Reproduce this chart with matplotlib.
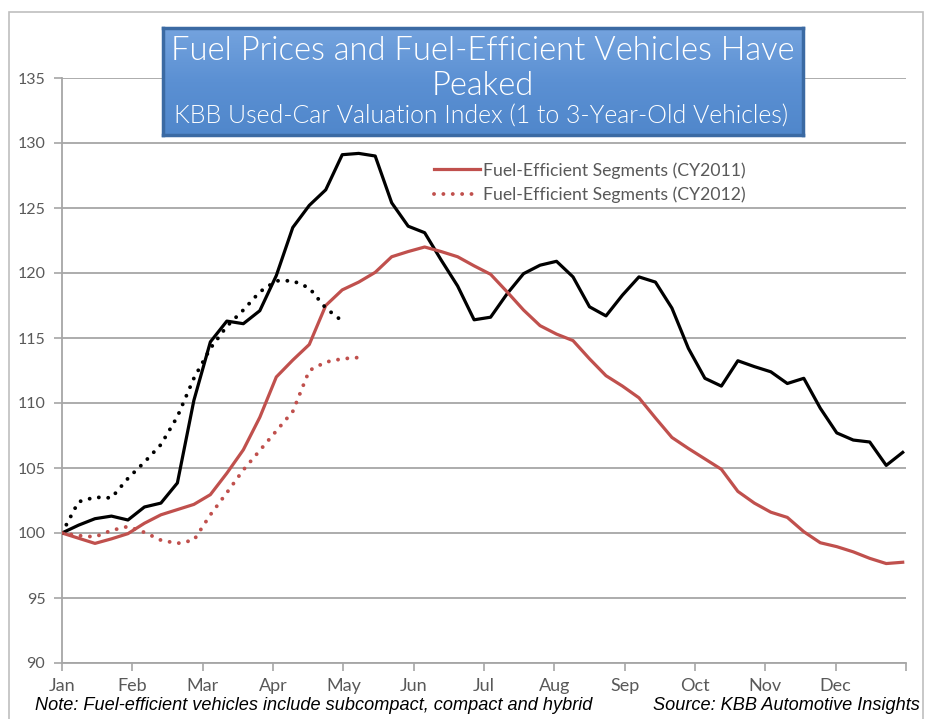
import os
import numpy as np
import matplotlib
matplotlib.use("Agg")
import matplotlib.pyplot as plt
from matplotlib.patches import Rectangle
from matplotlib.colors import LinearSegmentedColormap
from matplotlib import font_manager
from matplotlib.font_manager import FontProperties

# ---- data -------------------------------------------------------------
months = ["Jan", "Feb", "Mar", "Apr", "May", "Jun",
          "Jul", "Aug", "Sep", "Oct", "Nov", "Dec"]

overall_2011 = [100.0, 100.6, 101.1, 101.3, 101.0, 102.0, 102.3, 103.85, 110.2, 114.7,
                116.3, 116.1, 117.1, 119.8, 123.5, 125.2, 126.4, 129.1, 129.2, 129.0,
                125.4, 123.6, 123.1, 121.0, 119.0, 116.4, 116.6, 118.4, 119.95, 120.6,
                120.9, 119.7, 117.4, 116.7, 118.3, 119.7, 119.3, 117.3, 114.2, 111.9,
                111.3, 113.25, 112.8, 112.4, 111.5, 111.9, 109.6, 107.7, 107.15, 107.0,
                105.2, 106.2]

fuel_eff_2011 = [100.0, 99.6, 99.2, 99.55, 99.95, 100.75, 101.4, 101.8, 102.2, 102.95,
                 104.6, 106.4, 108.9, 112.0, 113.3, 114.5, 117.5, 118.7, 119.3, 120.05,
                 121.25, 121.65, 122.0, 121.65, 121.25, 120.55, 119.9, 118.55, 117.15, 115.95,
                 115.3, 114.8, 113.4, 112.1, 111.3, 110.4, 108.85, 107.35, 106.5, 105.7,
                 104.9, 103.2, 102.3, 101.6, 101.2, 100.1, 99.25, 98.95, 98.55, 98.05,
                 97.65, 97.75]

overall_2012 = [100.0, 102.4, 102.75, 102.7, 104.2, 105.45, 106.8, 108.95, 111.9, 114.2,
                115.9, 117.15, 118.55, 119.4, 119.4, 118.85, 117.3, 116.3]

fuel_eff_2012 = [100.0, 99.8, 99.7, 100.2, 100.5, 100.05, 99.45, 99.2, 99.45, 101.4,
                 103.1, 104.85, 106.35, 107.85, 109.35, 112.5, 113.15, 113.4, 113.5]

y_ticks = [90, 95, 100, 105, 110, 115, 120, 125, 130, 135]

title_line1 = "Fuel Prices and Fuel-Efficient Vehicles Have"
title_line2 = "Peaked"
subtitle = "KBB Used-Car Valuation Index (1 to 3-Year-Old Vehicles)"
legend_labels = ["Fuel-Efficient Segments (CY2011)", "Fuel-Efficient Segments (CY2012)"]
note = "Note: Fuel-efficient vehicles include subcompact, compact and hybrid"
source = "Source: KBB Automotive Insights"

# ---- fonts ------------------------------------------------------------
avail = {f.name for f in font_manager.fontManager.ttflist}
main_font = "Lato" if "Lato" in avail else "DejaVu Sans"
ital_font = "Liberation Sans" if "Liberation Sans" in avail else "DejaVu Sans"
plt.rcParams["font.family"] = [main_font, "DejaVu Sans"]

# pick a "Light" (not hairline / thin / italic) file for the title
title_fp = None
for fam in ["Lato", "Open Sans", "Roboto", "Noto Sans", "Inter"]:
    for f in font_manager.fontManager.ttflist:
        base = os.path.basename(f.fname).lower()
        if f.name == fam and "light" in base and "italic" not in base \
                and "extra" not in base and "semi" not in base and "ultra" not in base \
                and "hair" not in base and "thin" not in base:
            title_fp = f.fname
            break
    if title_fp:
        break

def tprops(size):
    if title_fp:
        return FontProperties(fname=title_fp, size=size)
    return FontProperties(family=main_font, size=size)

W, H = 935, 719
fig = plt.figure(figsize=(W / 100, H / 100), dpi=100)
fig.patch.set_facecolor("white")

def fx(px):
    return px / W

def fy(py):
    return 1 - py / H

# outer frame
fig.add_artist(Rectangle((fx(9), -0.02), fx(923) - fx(9), fy(12) + 0.02,
                         transform=fig.transFigure, fill=False,
                         edgecolor="#bfbfbf", lw=1.2, zorder=0))

ax = fig.add_axes([fx(62), fy(663), fx(906) - fx(62), fy(78) - fy(663)])
ax.set_facecolor("none")

grid_c = "#a6a6a6"
x11 = np.arange(len(overall_2011))
x12a = np.arange(len(overall_2012))
x12b = np.arange(len(fuel_eff_2012))

ax.plot(x11, overall_2011, color="black", lw=2.3, zorder=3)
ax.plot(x11, fuel_eff_2011, color="#C0504D", lw=2.3, zorder=3,
        label=legend_labels[0])
ax.plot(x12a, overall_2012, color="black", lw=2.8, linestyle=(0, (0.01, 2.4)),
        dash_capstyle="round", zorder=3)
ax.plot(x12b, fuel_eff_2012, color="#C0504D", lw=2.8, linestyle=(0, (0.01, 2.4)),
        dash_capstyle="round", zorder=3, label=legend_labels[1])

x_end = 51.2
ax.set_xlim(0, x_end)
ax.set_ylim(90, 135)
month_pos = np.arange(13) * x_end / 12
ax.set_xticks(month_pos)
ax.set_xticklabels(months + [""])
ax.set_yticks(y_ticks)
ax.set_yticklabels([str(v) for v in y_ticks])

ax.yaxis.grid(True, color=grid_c, lw=1.3)
ax.set_axisbelow(True)
for s in ["top", "right"]:
    ax.spines[s].set_visible(False)
for s in ["left", "bottom"]:
    ax.spines[s].set_color(grid_c)
    ax.spines[s].set_linewidth(1.3)

ax.tick_params(axis="both", colors=grid_c, length=6, width=1.2, direction="out",
               labelcolor="#595959")
ax.tick_params(axis="y", pad=6, labelsize=11.5)
ax.tick_params(axis="x", pad=5, labelsize=13)

leg = ax.legend(loc="upper left",
                bbox_to_anchor=((427 - 62) / (906 - 62), (663 - 155) / (663 - 78)),
                frameon=False, fontsize=12.7, handlelength=2.6, handletextpad=0.2,
                labelspacing=0.45, borderaxespad=0)
for t in leg.get_texts():
    t.set_color("#595959")

# title box with gradient
bx0, bx1, by0, by1 = 163, 803, 28, 135
tax = fig.add_axes([fx(bx0), fy(by1), fx(bx1) - fx(bx0), fy(by0) - fy(by1)])
grad = np.linspace(0, 1, 100).reshape(-1, 1)
cmap = LinearSegmentedColormap.from_list("g", ["#74A3DE", "#5B90D3", "#5087CB"])
tax.imshow(grad, aspect="auto", cmap=cmap, extent=[0, 1, 0, 1], origin="upper")
tax.set_xticks([]); tax.set_yticks([])
for s in tax.spines.values():
    s.set_color("#3B6AA3")
    s.set_linewidth(2.5)
tax.set_xlim(0, 1); tax.set_ylim(0, 1)

fig.text(fx(483), fy(51), title_line1, ha="center", va="center", color="white",
         fontproperties=tprops(23.6))
fig.text(fx(483), fy(86), title_line2, ha="center", va="center", color="white",
         fontproperties=tprops(23.6))
fig.text(fx(481), fy(117), subtitle, ha="center", va="center", color="white",
         fontproperties=tprops(17.9))

fig.text(fx(35), fy(706), note, ha="left", va="center", fontsize=13.1,
         style="italic", family=[ital_font, "DejaVu Sans"], color="black")
fig.text(fx(920), fy(706), source, ha="right", va="center", fontsize=13.1,
         style="italic", family=[ital_font, "DejaVu Sans"], color="black")

fig.savefig("out.png", dpi=100, facecolor="white")
